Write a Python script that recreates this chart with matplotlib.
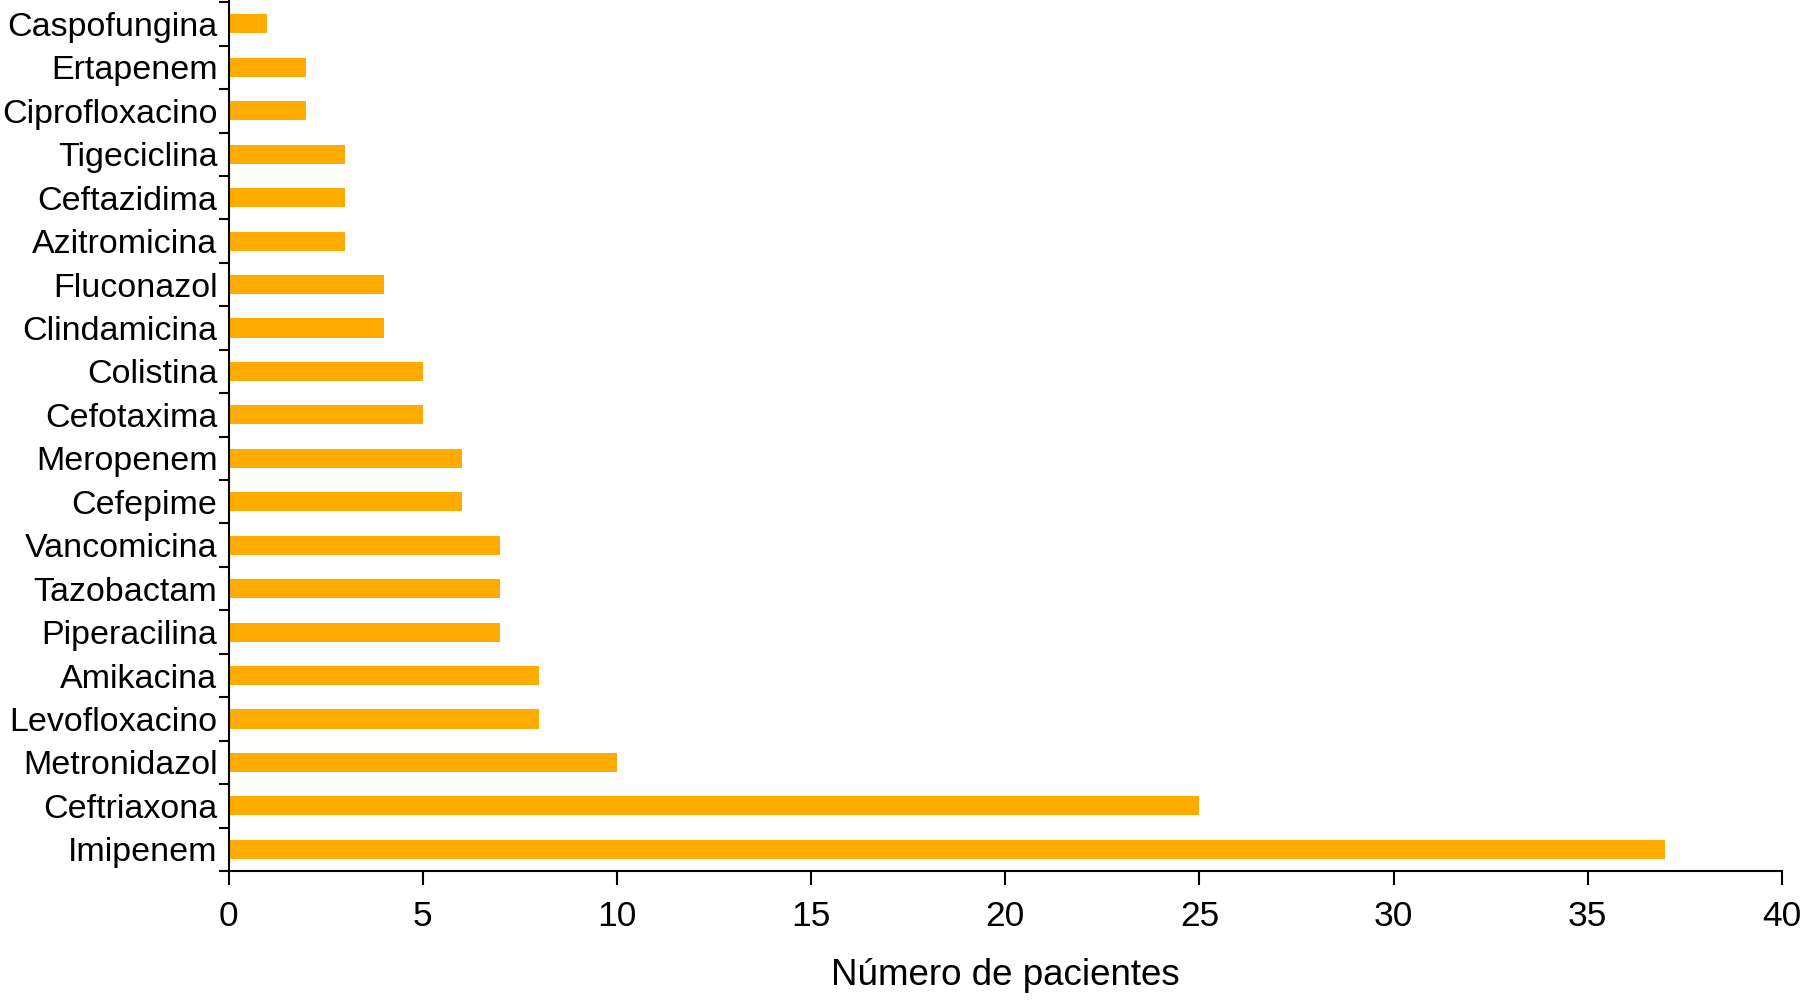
import matplotlib.pyplot as plt
import numpy as np

drugs = ["Imipenem", "Ceftriaxona", "Metronidazol", "Levofloxacino", "Amikacina",
         "Piperacilina", "Tazobactam", "Vancomicina", "Cefepime", "Meropenem",
         "Cefotaxima", "Colistina", "Clindamicina", "Fluconazol", "Azitromicina",
         "Ceftazidima", "Tigeciclina", "Ciprofloxacino", "Ertapenem", "Caspofungina"]
patients = [37, 25, 10, 8, 8, 7, 7, 7, 6, 6, 5, 5, 4, 4, 3, 3, 3, 2, 2, 1]

plt.rcParams['font.family'] = ['Liberation Sans', 'DejaVu Sans']

fig = plt.figure(figsize=(18, 10.02), dpi=100)
ax = fig.add_axes([0.127, 0.1307, 0.863, 0.8693])

y = np.arange(len(drugs))
ax.barh(y, patients, height=0.44, color='#FFAB00')

ax.set_xlim(0, 40)
ax.set_ylim(-0.5, 19.55)
ax.set_xticks(np.arange(0, 41, 5))
ax.set_yticks(y)
ax.set_yticklabels(drugs)
ax.set_yticks(np.arange(-0.5, 19.6, 1), minor=True)

for s in ['top', 'right']:
    ax.spines[s].set_visible(False)
for s in ['left', 'bottom']:
    ax.spines[s].set_linewidth(1.5)

ax.tick_params(axis='x', length=10, width=1.5, labelsize=25.5, pad=11)
ax.tick_params(axis='y', which='major', length=0, labelsize=24.5, pad=8)
ax.tick_params(axis='y', which='minor', length=7, width=1.5)

ax.set_xlabel("Número de pacientes", fontsize=26.5, labelpad=18)

fig.savefig("out.png", dpi=100)
